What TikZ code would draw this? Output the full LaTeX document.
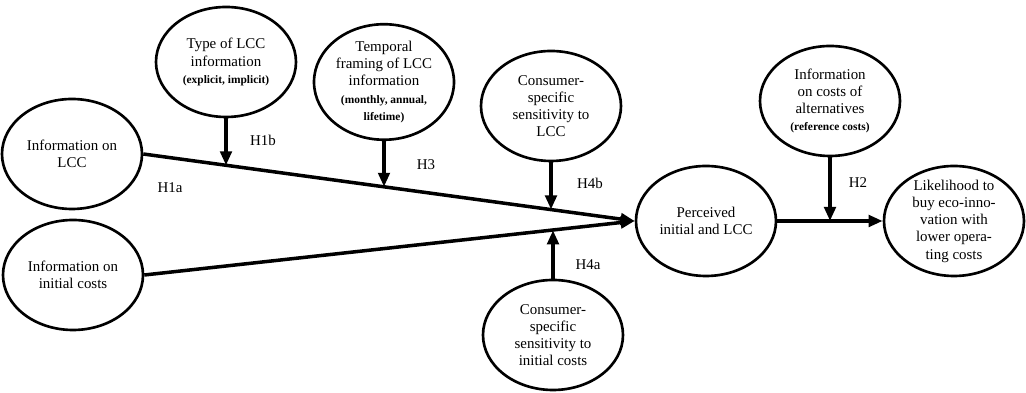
\documentclass[tikz,border=0pt]{standalone}
\usepackage{fontspec}
\setmainfont{Liberation Serif}
\usetikzlibrary{shapes.geometric,arrows.meta}
\newcommand\subtxt[1]{{\fontsize{6.5}{7.8}\selectfont\bfseries #1}}

\begin{document}
\begin{tikzpicture}[>={Triangle[length=8pt,width=6.5pt]},line join=round,
  var/.style={draw,ellipse,line width=1.5pt,minimum width=2.8cm,minimum height=2.2cm,
    inner sep=0pt,align=center,font=\fontsize{8.5}{9.8}\selectfont},
  hyp/.style={font=\fontsize{8.5}{9.8}\selectfont},
  link/.style={->,line width=2pt}]
\useasboundingbox (0,0) rectangle (20.52,7.86);
% variables
\node[var] (infoLCC) at (1.44,4.78) {Information on\\LCC};
\node[var] (infoInit) at (1.46,2.36) {Information on\\initial costs};
\node[var] (typeLCC) at (4.52,6.62) {Type of LCC\\information\\\subtxt{(explicit, implicit)}};
\node[var] (temporal) at (7.68,6.22) {Temporal\\framing of LCC\\information\\\subtxt{(monthly, annual,}\\\subtxt{lifetime)}};
\node[var] (consLCC) at (11.02,5.74) {Consumer-\\specific\\sensitivity to\\LCC};
\node[var] (consInit) at (11.06,1.16) {Consumer-\\specific\\sensitivity to\\initial costs};
\node[var] (perceived) at (14.12,3.44) {Perceived\\initial and LCC};
\node[var] (alternatives) at (16.6,5.84) {Information\\on costs of\\alternatives\\\subtxt{(reference costs)}};
\node[var,inner ysep=-2pt] (likelihood) at (19.08,3.44) {Likelihood to\\buy eco-inno-\\vation with\\lower opera-\\ting costs};
% hypotheses
\node[hyp] (h1a) at (3.4,4.1) {H1a};
\node[hyp] (h1b) at (5.26,5.06) {H1b};
\node[hyp] (h3) at (8.52,4.56) {H3};
\node[hyp] (h4b) at (11.8,4.2) {H4b};
\node[hyp] (h4a) at (11.76,2.56) {H4a};
\node[hyp] (h2) at (17.16,4.2) {H2};
% paths
\path (infoLCC.east) -- (perceived.west) coordinate[pos=0.170] (pH1b) coordinate[pos=0.490] (pH3) coordinate[pos=0.828] (pH4b);
\path (infoInit.east) -- (perceived.west) coordinate[pos=0.828] (pH4a);
\draw[link] (infoLCC.east) -- (perceived.west);
\draw[link] (infoInit.east) -- (perceived.west);
\draw[link] (typeLCC.south) -- (typeLCC.south |- pH1b);
\draw[link] (temporal.south) -- (temporal.south |- pH3);
\draw[link] (consLCC.south) -- (consLCC.south |- pH4b);
\draw[link] (consInit.north) -- (consInit.north |- pH4a);
\draw[link] (perceived.east) -- (likelihood.west);
\draw[link] (alternatives.south) -- (alternatives.south |- perceived.east);
\end{tikzpicture}
\end{document}
